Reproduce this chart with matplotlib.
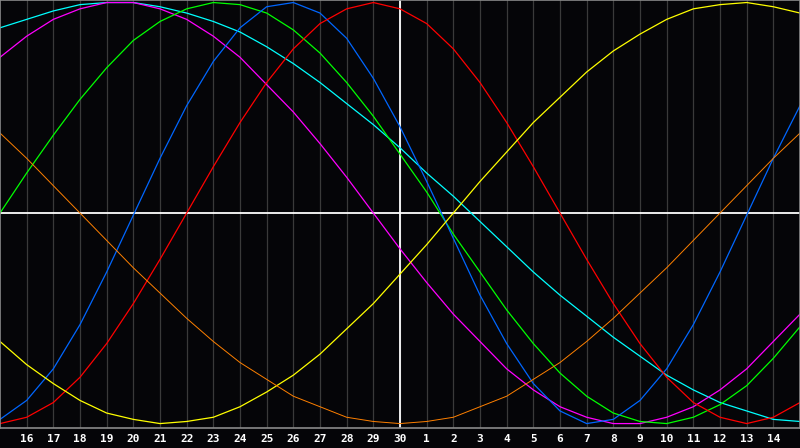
import numpy as np
from matplotlib import pyplot as plt

# days shown on the chart (first and last are the edges of the window)
days = [15, 16, 17, 18, 19, 20, 21, 22, 23, 24, 25, 26, 27, 28, 29, 30,
        1, 2, 3, 4, 5, 6, 7, 8, 9, 10, 11, 12, 13, 14, 15]

physical = [-0.98, -0.89, -0.74, -0.53, -0.28, -0.01, 0.26, 0.51, 0.72, 0.88, 0.98,
            1.00, 0.95, 0.83, 0.64, 0.41, 0.15, -0.12, -0.39, -0.62, -0.81, -0.94,
            -1.00, -0.98, -0.89, -0.74, -0.53, -0.28, -0.01, 0.26, 0.51]
emotional = [-1.00, -0.97, -0.90, -0.78, -0.62, -0.43, -0.22, 0.00, 0.22, 0.43, 0.62,
             0.78, 0.90, 0.97, 1.00, 0.97, 0.90, 0.78, 0.62, 0.43, 0.22, 0.00,
             -0.22, -0.43, -0.62, -0.78, -0.90, -0.97, -1.00, -0.97, -0.90]
intellectual = [0.00, 0.19, 0.37, 0.54, 0.69, 0.82, 0.91, 0.97, 1.00, 0.99, 0.95,
                0.87, 0.76, 0.62, 0.46, 0.28, 0.10, -0.10, -0.28, -0.46, -0.62, -0.76,
                -0.87, -0.95, -0.99, -1.00, -0.97, -0.91, -0.82, -0.69, -0.54]
intuitive = [0.74, 0.84, 0.92, 0.97, 1.00, 1.00, 0.97, 0.92, 0.84, 0.74, 0.61,
             0.48, 0.33, 0.17, 0.00, -0.17, -0.33, -0.48, -0.61, -0.74, -0.84, -0.92,
             -0.97, -1.00, -1.00, -0.97, -0.92, -0.84, -0.74, -0.61, -0.48]
aesthetic = [-0.61, -0.72, -0.81, -0.89, -0.95, -0.98, -1.00, -0.99, -0.97, -0.92, -0.85,
             -0.77, -0.67, -0.55, -0.43, -0.29, -0.15, 0.00, 0.15, 0.29, 0.43, 0.55,
             0.67, 0.77, 0.85, 0.92, 0.97, 0.99, 1.00, 0.98, 0.95]
awareness = [0.38, 0.26, 0.13, 0.00, -0.13, -0.26, -0.38, -0.50, -0.61, -0.71, -0.79,
             -0.87, -0.92, -0.97, -0.99, -1.00, -0.99, -0.97, -0.92, -0.87, -0.79, -0.71,
             -0.61, -0.50, -0.38, -0.26, -0.13, 0.00, 0.13, 0.26, 0.38]
spiritual = [0.88, 0.92, 0.96, 0.99, 1.00, 1.00, 0.98, 0.95, 0.91, 0.86, 0.79,
             0.71, 0.62, 0.52, 0.42, 0.31, 0.19, 0.08, -0.04, -0.16, -0.28, -0.39,
             -0.49, -0.59, -0.68, -0.77, -0.84, -0.90, -0.94, -0.98, -0.99]

series = [
    (spiritual, '#00ffff', 0.9),
    (intuitive, '#ff00ff', 0.9),
    (intellectual, '#00ff00', 0.9),
    (physical, '#0066ff', 0.9),
    (emotional, '#ff0000', 0.9),
    (aesthetic, '#ffff00', 0.9),
    (awareness, '#ff8000', 0.7),
]

bg = '#050508'
fig = plt.figure(figsize=(8, 4.48), dpi=100, facecolor=bg)
ax = fig.add_axes([0, 20 / 448, 1, 428 / 448], facecolor=bg)

x = np.arange(len(days))
ax.set_xlim(0, len(days) - 1)
ax.set_ylim(-1.021, 1.012)

ax.set_xticks(x[1:-1])
ax.set_xticklabels([str(d) for d in days[1:-1]], color='white',
                   fontsize=8, fontweight='bold', family='DejaVu Sans Mono')
ax.tick_params(axis='x', length=0, pad=4)
ax.set_yticks([])
ax.grid(axis='x', color='#3a3a3a', lw=0.9)
ax.set_axisbelow(True)

for s in ['left', 'top', 'bottom', 'right']:
    ax.spines[s].set_color('#8a8a8a')
    ax.spines[s].set_linewidth(1.2)

ax.axhline(0, color='white', lw=1.3, zorder=1)
ax.axvline(x[days.index(30)], color='white', lw=1.3, zorder=1)

for vals, col, lw in series:
    ax.plot(x, vals, color=col, lw=lw, zorder=2)

fig.savefig('out.png', dpi=100, facecolor=bg)
